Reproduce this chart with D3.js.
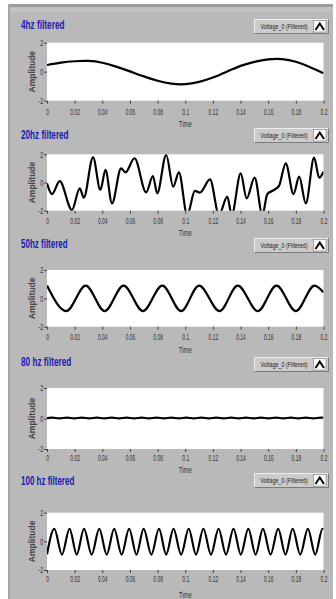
<!DOCTYPE html>
<html>
<head>
<meta charset="utf-8">
<script src="https://cdn.jsdelivr.net/npm/d3@7"></script>
<style>
  html, body { margin: 0; padding: 0; background: #fff; }
  svg { display: block; font-family: "Liberation Sans", Arial, sans-serif; }
</style>
</head>
<body>
<svg id="chart" width="336" height="599"></svg>
<script>
// ---- data ----
const timeTicks = [0, 0.02, 0.04, 0.06, 0.08, 0.1, 0.12, 0.14, 0.16, 0.18, 0.2];
const timeTickLabels = ["0", "0.02", "0.04", "0.06", "0.08", "0.1", "0.12", "0.14", "0.16", "0.18", "0.2"];
const ampTicks = [-2, 0, 2];
const ampTickLabels = ["-2", "0", "2"];
const titles = ["4hz filtered", "20hz filtered", "50hz filtered", "80 hz filtered", "100 hz filtered"];
const legendLabel = "Voltage_0 (Filtered)";
const xLabel = "Time";
const yLabel = "Amplitude";

const time4 = [0, 0.01, 0.02, 0.03, 0.04, 0.05, 0.06, 0.07, 0.08, 0.09, 0.1,
  0.11, 0.12, 0.13, 0.14, 0.15, 0.16, 0.17, 0.18, 0.19, 0.2];
const volt4 = [0.46, 0.62, 0.72, 0.74, 0.62, 0.35, 0.02, -0.32, -0.62, -0.82, -0.86,
  -0.7, -0.4, 0.0, 0.4, 0.68, 0.85, 0.87, 0.69, 0.33, -0.1];

const time20 = [0, 0.0036, 0.0092, 0.018, 0.0237, 0.0266, 0.0333, 0.0386, 0.0423, 0.047,
  0.0536, 0.0568, 0.0633, 0.0717, 0.0766, 0.0797, 0.0862, 0.0913, 0.0954, 0.1014,
  0.107, 0.1106, 0.1179, 0.1244, 0.1304, 0.1336, 0.1401, 0.1444, 0.1502, 0.1558,
  0.1594, 0.1643, 0.1679, 0.1727, 0.1783, 0.1824, 0.1872, 0.1932, 0.1969, 0.2];
const volt20 = [-0.06, -0.82, 0.1, -1.95, -0.41, -1.08, 1.79, -0.53, 0.89, -1.48,
  1.0, 0.72, 1.72, -0.7, 0.46, -0.77, 1.95, -0.3, 0.72, -2.3,
  -0.6, -0.72, 0.22, -2.3, -1.0, -2.3, 0.65, -1.12, 0.34, -2.3,
  -0.82, -0.53, -0.22, 1.36, -0.82, 0.41, -1.48, 1.76, 0.34, 0.77];

const time50 = [0, 0.014, 0.028, 0.0417, 0.0554, 0.0694, 0.0834, 0.097, 0.11,
  0.1248, 0.138, 0.1525, 0.166, 0.18, 0.1935, 0.2];
const volt50 = [0.9, -0.9, 0.9, -0.9, 0.9, -0.9, 0.9, -0.9, 0.9,
  -0.9, 0.9, -0.9, 0.9, -0.9, 0.9, 0.42];

const time80 = [0, 0.0036, 0.009, 0.0144, 0.0198, 0.0252, 0.0306, 0.036, 0.0414, 0.0468,
  0.0522, 0.0576, 0.063, 0.0684, 0.0738, 0.0792, 0.0846, 0.09, 0.0954, 0.1008,
  0.1062, 0.1116, 0.117, 0.1224, 0.1278, 0.1332, 0.1386, 0.144, 0.1494, 0.1548,
  0.1602, 0.1656, 0.171, 0.1764, 0.1818, 0.1872, 0.1926, 0.198, 0.2];
const volt80 = [0.03, 0.06, 0.01, 0.06, 0.01, 0.06, 0.01, 0.06, 0.01, 0.06,
  0.01, 0.06, 0.01, 0.06, 0.01, 0.06, 0.01, 0.06, 0.01, 0.06,
  0.01, 0.06, 0.01, 0.06, 0.01, 0.06, 0.01, 0.06, 0.01, 0.06,
  0.01, 0.06, 0.01, 0.06, 0.01, 0.06, 0.01, 0.06, 0.05];

const time100 = [0, 0.0053, 0.0108, 0.0163, 0.0215, 0.0268, 0.0323, 0.0378, 0.0432, 0.0486,
  0.054, 0.0594, 0.0647, 0.0699, 0.0755, 0.081, 0.0862, 0.0915, 0.097, 0.1025,
  0.1078, 0.1131, 0.1186, 0.1241, 0.1295, 0.1349, 0.1402, 0.1456, 0.1509, 0.1562,
  0.1617, 0.1672, 0.1725, 0.1777, 0.1832, 0.1887, 0.194, 0.1993, 0.2];
const volt100 = [-0.9, 0.88, -0.92, 0.88, -0.92, 0.88, -0.92, 0.88, -0.92, 0.88,
  -0.92, 0.88, -0.92, 0.88, -0.92, 0.88, -0.92, 0.88, -0.92, 0.88,
  -0.92, 0.88, -0.92, 0.88, -0.92, 0.88, -0.92, 0.88, -0.92, 0.88,
  -0.92, 0.88, -0.92, 0.88, -0.92, 0.88, -0.92, 0.88, 0.85];

const seriesTimes = [time4, time20, time50, time80, time100];
const seriesVolts = [volt4, volt20, volt50, volt80, volt100];

// ---- layout (pixels) ----
const plotLeft = 47, plotRight = 323.5;
const layout = [
  { top: 42.7,  bottom: 100.7, titleY: 29.3,  titleW: 43.5, legendY: 19,  tickY: 14.3, timeY: 127 },
  { top: 154.3, bottom: 210.7, titleY: 139,   titleW: 47.6, legendY: 128, tickY: 13.6, timeY: 235.5 },
  { top: 270,   bottom: 326.7, titleY: 247.5, titleW: 46.7, legendY: 238, tickY: 13.3, timeY: 353 },
  { top: 388,   bottom: 449,   titleY: 365.5, titleW: 50.3, legendY: 357, tickY: 11.7, timeY: 472.5 },
  { top: 512.7, bottom: 570,   titleY: 485,   titleW: 53.3, legendY: 473, tickY: 11.7, timeY: 598 }
];

const svg = d3.select('#chart');

// panel background
svg.append('rect').attr('x', 8).attr('y', 4).attr('width', 325).attr('height', 595).attr('fill', '#b9b9b9');
svg.append('rect').attr('x', 8).attr('y', 4).attr('width', 325).attr('height', 3).attr('fill', '#9c9c9c');
svg.append('rect').attr('x', 8).attr('y', 7).attr('width', 325).attr('height', 5).attr('fill', '#c2c2c2');
svg.append('rect').attr('x', 8).attr('y', 4).attr('width', 2).attr('height', 595).attr('fill', '#a6a6a6');

const x = d3.scaleLinear().domain([0, 0.2]).range([plotLeft, plotRight]);

layout.forEach((L, i) => {
  const y = d3.scaleLinear().domain([-2, 2]).range([L.bottom, L.top]);
  const g = svg.append('g');

  // title
  g.append('text')
    .attr('x', 21).attr('y', L.titleY)
    .attr('font-size', 12).attr('font-weight', 'bold')
    .attr('fill', '#1b1bb0')
    .attr('textLength', L.titleW).attr('lengthAdjust', 'spacingAndGlyphs')
    .text(titles[i]);

  // legend
  const lg = g.append('g').attr('transform', `translate(254,${L.legendY})`);
  lg.append('rect').attr('width', 75).attr('height', 14.5).attr('fill', '#cbcbcb');
  lg.append('path').attr('d', 'M0.5,14 V0.5 H74.5').attr('fill', 'none').attr('stroke', '#eeeeee');
  lg.append('path').attr('d', 'M0.5,14.5 H74.5 V0.5').attr('fill', 'none').attr('stroke', '#7c7c7c');
  lg.append('text').attr('x', 6.5).attr('y', 10)
    .attr('font-size', 7.5).attr('fill', '#222')
    .attr('textLength', 47).attr('lengthAdjust', 'spacingAndGlyphs')
    .text(legendLabel);
  lg.append('rect').attr('x', 59.5).attr('y', 1.5).attr('width', 12.5).attr('height', 11.5)
    .attr('fill', '#fff').attr('stroke', '#777').attr('stroke-width', 0.6);
  lg.append('path').attr('d', 'M61.5,11 L65.75,4.5 L70,11')
    .attr('fill', 'none').attr('stroke', '#000').attr('stroke-width', 2);

  // plot area
  g.append('rect').attr('x', plotLeft).attr('y', L.top)
    .attr('width', plotRight - plotLeft).attr('height', L.bottom - L.top).attr('fill', '#fff');

  // x axis
  const xa = g.append('g').attr('transform', `translate(0,${L.bottom})`)
    .call(d3.axisBottom(x).tickValues(timeTicks).tickSize(3)
      .tickFormat((d, k) => timeTickLabels[k]));
  xa.select('.domain').remove();
  xa.selectAll('line').attr('stroke', '#444');
  xa.selectAll('text')
    .attr('y', L.tickY).attr('dy', 0)
    .attr('font-size', 8.5).attr('fill', '#333')
    .attr('transform', 'scale(0.58,1)');
  xa.attr('font-family', null).attr('font-size', null);

  // y axis
  const ya = g.append('g').attr('transform', `translate(${plotLeft},0)`)
    .call(d3.axisLeft(y).tickValues(ampTicks).tickSize(3).tickPadding(3)
      .tickFormat((d, k) => ampTickLabels[k]));
  ya.select('.domain').remove();
  ya.selectAll('line').attr('stroke', '#444');
  ya.selectAll('text')
    .attr('font-size', 8.5).attr('fill', '#333')
    .attr('transform', 'scale(0.62,1)');
  ya.attr('font-family', null).attr('font-size', null);

  // axis titles
  g.append('text')
    .attr('transform', `translate(${(plotLeft + plotRight) / 2},${L.timeY}) scale(0.7,1)`)
    .attr('text-anchor', 'middle').attr('font-size', 8.5).attr('fill', '#333')
    .text(xLabel);
  g.append('text')
    .attr('transform', `translate(35,${(L.top + L.bottom) / 2}) rotate(-90)`)
    .attr('text-anchor', 'middle').attr('font-size', 8.5).attr('font-weight', 'bold')
    .attr('fill', '#444')
    .text(yLabel);

  // waveform, clipped to the plot area
  const clipId = `clip${i}`;
  g.append('clipPath').attr('id', clipId).append('rect')
    .attr('x', plotLeft).attr('y', L.top)
    .attr('width', plotRight - plotLeft).attr('height', L.bottom - L.top);

  const pts = seriesTimes[i].map((t, k) => ({ t, v: seriesVolts[i][k] }));
  g.append('path')
    .datum(pts)
    .attr('clip-path', `url(#${clipId})`)
    .attr('fill', 'none')
    .attr('stroke', '#000')
    .attr('stroke-width', 2.2)
    .attr('stroke-linejoin', 'round')
    .attr('d', d3.line()
      .curve(i === 0 ? d3.curveNatural : d3.curveMonotoneX)
      .x(d => x(d.t))
      .y(d => y(d.v)));
});
</script>
</body>
</html>
